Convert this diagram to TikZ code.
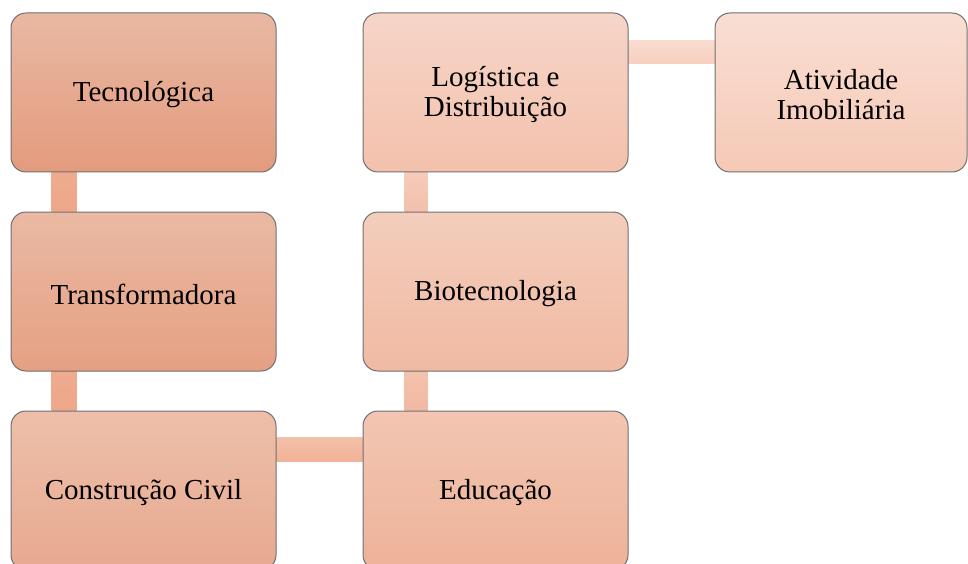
\documentclass[tikz,border=0pt]{standalone}
\usepackage{fontspec}
\setmainfont{Liberation Serif}
\usetikzlibrary{calc,backgrounds}
\definecolor{bordc}{HTML}{707070}
\definecolor{tecT}{HTML}{E9B8A2}\definecolor{tecB}{HTML}{E39B7E}
\definecolor{traT}{HTML}{EAB9A3}\definecolor{traB}{HTML}{E5A083}
\definecolor{conT}{HTML}{EDBFAA}\definecolor{conB}{HTML}{E8A98F}
\definecolor{eduT}{HTML}{F2C6B3}\definecolor{eduB}{HTML}{EEB298}
\definecolor{bioT}{HTML}{F4CDBC}\definecolor{bioB}{HTML}{F0BAA3}
\definecolor{logT}{HTML}{F6D5C8}\definecolor{logB}{HTML}{F3C1AC}
\definecolor{atiT}{HTML}{F9DED3}\definecolor{atiB}{HTML}{F6C9B6}
\definecolor{cAT}{HTML}{EEAB8E}\definecolor{cAB}{HTML}{EEA78A}
\definecolor{cBT}{HTML}{F3C0A9}\definecolor{cBB}{HTML}{F1B297}
\definecolor{cCT}{HTML}{F3C3AE}\definecolor{cCB}{HTML}{F1B9A1}
\definecolor{cDT}{HTML}{F5CBBA}\definecolor{cDB}{HTML}{F3C0AB}
\definecolor{cET}{HTML}{F9DCD0}\definecolor{cEB}{HTML}{F7CFBF}
\tikzset{
  boxnode/.style={draw=bordc, line width=1pt, rounded corners=15pt,
    minimum width=265pt, minimum height=159pt, inner sep=0pt},
  lbl/.style={align=center, yshift=-2.5pt, inner sep=0pt,
    font=\fontsize{29}{30}\selectfont},
  grad/.style 2 args={top color=#1, bottom color=#2},
}
\begin{document}
\begin{tikzpicture}[x=1pt,y=-1pt]
\useasboundingbox (0,0) rectangle (968,564);
\clip (0,0) rectangle (968,564);
% column 1
\node[boxnode, grad={tecT}{tecB}, label={[lbl]center:Tecnológica}] at (143.5,92.5) (tec) {};
\node[boxnode, grad={traT}{traB}, label={[lbl]center:Transformadora}] at (143.5,291.5) (tra) {};
\node[boxnode, grad={conT}{conB}, label={[lbl]center:Construção Civil}] at (143.5,490.5) (con) {};
% column 2
\node[boxnode, grad={eduT}{eduB}, label={[lbl]center:Educação}] at (495.5,490.5) (edu) {};
\node[boxnode, grad={bioT}{bioB}, label={[lbl]center:Biotecnologia}] at (495.5,291.5) (bio) {};
\node[boxnode, grad={logT}{logB}, label={[lbl]center:Logística e\\Distribuição}] at (495.5,92.5) (log) {};
% column 3
\node[boxnode, grad={atiT}{atiB}, minimum width=252pt, label={[lbl]center:Atividade\\Imobiliária}] at (841,92.5) (ati) {};
% connectors
\begin{scope}[on background layer]
\path[grad={cAT}{cAB}] ($(tec.south west)+(41,0)$) rectangle ($(tra.north west)+(66,0)$);
\path[grad={cAT}{cAB}] ($(tra.south west)+(41,0)$) rectangle ($(con.north west)+(66,0)$);
\path[grad={cBT}{cBB}] ($(con.north east)+(0,27)$) rectangle ($(edu.north west)+(0,51)$);
\path[grad={cCT}{cCB}] ($(edu.north west)+(42,0)$) rectangle ($(bio.south west)+(65,0)$);
\path[grad={cDT}{cDB}] ($(bio.north west)+(42,0)$) rectangle ($(log.south west)+(65,0)$);
\path[grad={cET}{cEB}] ($(log.north east)+(0,28)$) rectangle ($(ati.north west)+(0,51)$);
\end{scope}
\end{tikzpicture}
\end{document}
